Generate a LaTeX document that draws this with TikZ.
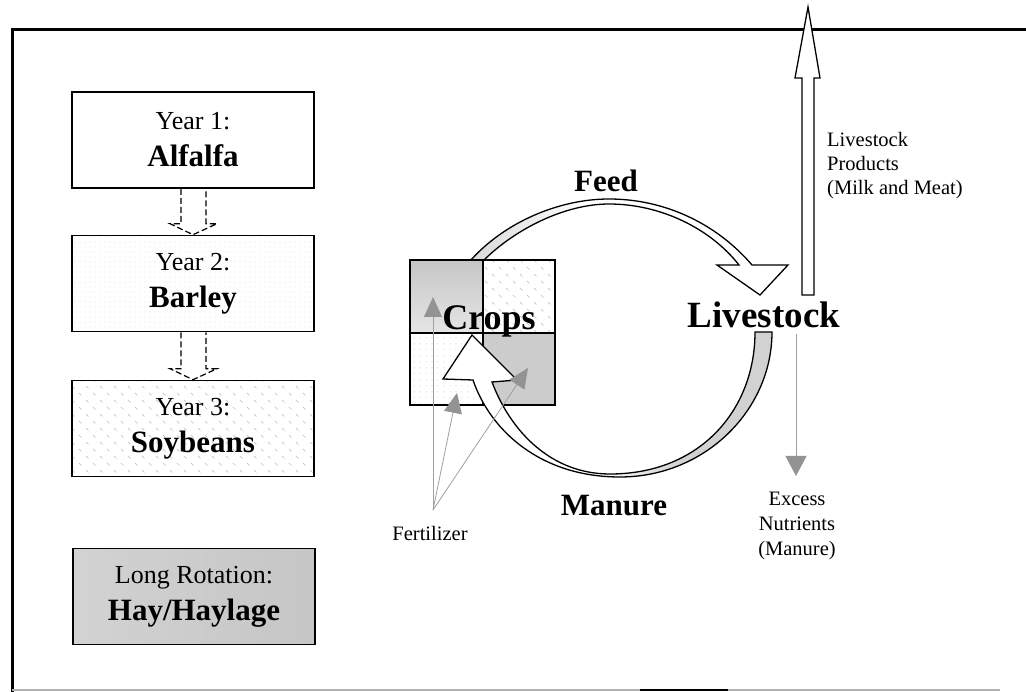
\documentclass[tikz,border=0pt]{standalone}
\usepackage{fontspec}
\setmainfont{Liberation Serif}
\usetikzlibrary{arrows.meta,patterns,patterns.meta,calc}

% short slanted ticks used as a light fill texture
\pgfdeclarepatternformonly{ticks}{\pgfqpoint{-1pt}{-1pt}}{\pgfqpoint{15pt}{15pt}}{\pgfqpoint{14pt}{14pt}}{%
  \pgfsetlinewidth{0.6pt}%
  \pgfpathmoveto{\pgfqpoint{2pt}{12pt}}\pgfpathlineto{\pgfqpoint{4.5pt}{9.5pt}}%
  \pgfpathmoveto{\pgfqpoint{9pt}{5pt}}\pgfpathlineto{\pgfqpoint{11.5pt}{2.5pt}}%
  \pgfusepath{stroke}}

\newcommand{\yrf}{\fontsize{26}{37}\selectfont}
\newcommand{\crf}{\bfseries\fontsize{31}{37}\selectfont}

% outlines of the two curved block arrows
\def\feedpath{(466,266) -- (470,261) .. controls (505,221.5) and (560,199) .. (609,199)
  .. controls (664,199) and (716,223) .. (752,265) -- (788,265) -- (760,295) -- (717,265)
  -- (739,265) .. controls (710,228) and (660,204) .. (609,204)
  .. controls (565,204) and (515,229) .. (483,261) -- (479,266) -- cycle}
\def\manurepath{(772,332) .. controls (772,410) and (705,477) .. (620,477)
  .. controls (540,477) and (490,430) .. (473,380) -- (443,379) -- (472,335) -- (517,380)
  -- (492,382) .. controls (510,430) and (550,474) .. (610,474)
  .. controls (700,474) and (755,410) .. (755,332) -- cycle}

\begin{document}
\begin{tikzpicture}[x=1pt,y=-1pt,
  box/.style={draw, line width=1.6pt, minimum width=242pt, minimum height=96pt,
    align=center, inner sep=0pt, font=\yrf},
  rotarrow/.style={dash pattern=on 6pt off 3pt, line width=1.2pt},
  outline/.style={line width=1.3pt, line join=miter},
  quad/.style={line width=1.5pt},
  fertarrow/.style={gray!75, line width=0.8pt,
    -{Triangle[length=20pt,width=18pt,fill=gray!85,color=gray!85]}},
  bigword/.style={inner sep=0pt, anchor=base},
  smalltext/.style={inner sep=0pt, font=\fontsize{20.5}{24}\selectfont}]

\useasboundingbox (0,0) rectangle (1026,692);

% frame
\draw[line width=3pt] (1026,30) -- (12,30) -- (12,692);
\draw[gray!60, line width=1.5pt] (12,690) -- (1000,690);
\draw[line width=1.5pt] (640,690) -- (728,690);

% rotation boxes
\node[box, fill=white] (y1) at (193,140) {Year 1:\\{\crf Alfalfa}};
\node[box, pattern={Dots[distance=5pt,radius=0.45pt]}, pattern color=gray!60]
  (y2) at (193,283.5) {Year 2:\\{\crf Barley}};
\node[box, pattern=ticks, pattern color=gray!55] (y3) at (193,428.5) {Year 3:\\{\crf Soybeans}};
\node[box, left color=gray!35, right color=gray!45] (hay) at (194,596.5)
  {Long Rotation:\\{\crf Hay/Haylage}};

% dashed rotation arrows
\foreach \a/\b in {y1/y2, y2/y3}{
  \draw[rotarrow] ($(\a.south)+(-12,0)$) -- ($(\b.north)+(-12,-11)$) -- ($(\b.north)+(-23,-11)$)
    -- (\b.north) -- ($(\b.north)+(24,-11)$) -- ($(\b.north)+(13,-11)$) -- ($(\a.south)+(13,0)$);
}

% feed arrow (runs under the crop squares)
\begin{scope}
  \clip \feedpath;
  \fill[white] (450,190) rectangle (800,300);
  \shade[left color=gray!35, right color=white] (450,190) rectangle (585,300);
\end{scope}
\draw[outline] \feedpath;

% crop squares
\shade[top color=gray!45, middle color=white, bottom color=gray!20] (410,260) rectangle (483,333);
\fill[pattern=ticks, pattern color=gray!55] (483,260) rectangle (555,333);
\fill[pattern={Dots[distance=6pt,radius=0.5pt]}, pattern color=gray!55] (410,333) rectangle (483,405);
\fill[gray!40] (483,333) rectangle (555,405);
\draw[quad] (410,260) rectangle (555,405);
\draw[quad] (483,260) -- (483,405);
\draw[quad] (410,333) -- (555,333);

% manure arrow
\begin{scope}
  \clip \manurepath;
  \fill[white] (430,320) rectangle (790,490);
  \shade[left color=white, right color=gray!35] (590,320) rectangle (680,490);
  \fill[gray!35] (680,320) rectangle (790,490);
\end{scope}
\draw[outline] \manurepath;

% fertilizer inputs
\node[smalltext, anchor=base] (fertlabel) at (430,540) {Fertilizer};
\coordinate (fert) at (433,510);
\coordinate (f1) at (433,297);
\coordinate (f2) at (457,393);
\coordinate (f3) at (528,368);
\draw[fertarrow] (fert) -- (f1);
\draw[fertarrow] (fert) -- (f2);
\draw[fertarrow] (fert) -- (f3);

% cycle labels
\node[bigword, font=\bfseries\fontsize{36}{40}\selectfont] (crops) at (489,330) {Crops};
\node[bigword, font=\bfseries\fontsize{31}{36}\selectfont] (feed) at (606,192) {Feed};
\node[bigword, font=\bfseries\fontsize{37}{40}\selectfont] (livestock) at (764,328) {Livestock};
\node[bigword, font=\bfseries\fontsize{31}{36}\selectfont] (manure) at (614,515) {Manure};

% products leaving the farm
\draw[outline, fill=white] (802,295) -- (802,78) -- (795,78) -- (808,7) -- (820,78)
  -- (814,78) -- (814,295) -- cycle;
\node[smalltext, anchor=north west, align=left] (products) at (827,132)
  {Livestock\\Products\\(Milk and Meat)};

% excess nutrients
\coordinate (xtop) at (796,334);
\coordinate (xend) at (796,476);
\draw[gray!75, line width=0.8pt, -{Triangle[length=20pt,width=21pt,fill=gray!85,color=gray!85]}] (xtop) -- (xend);
\node[smalltext, anchor=north, align=center, font=\fontsize{20.5}{25}\selectfont] (excess)
  at (797,491.4) {Excess\\Nutrients\\(Manure)};

\end{tikzpicture}
\end{document}
